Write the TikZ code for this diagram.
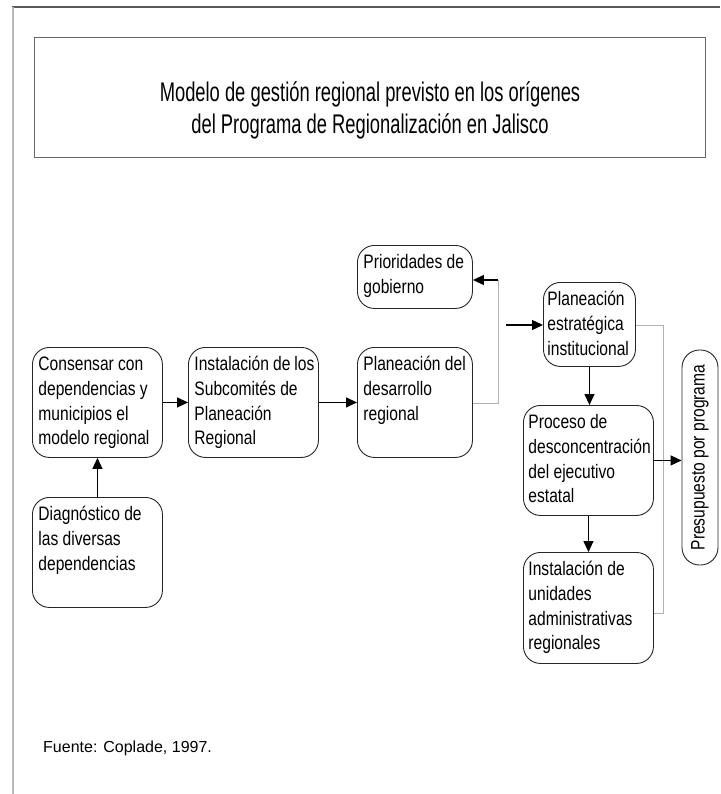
\documentclass[tikz,border=0pt]{standalone}
\usepackage{fontspec}
\setmainfont{Liberation Sans}
\newfontfamily\boxfont[FakeStretch=0.8]{Liberation Sans}
\newfontfamily\titlefont[FakeStretch=0.68]{Liberation Sans}
\usetikzlibrary{arrows.meta}
\newcommand{\bxt}[3]{\hspace*{2pt}\parbox[c][#2][t]{#1}{\raggedright\boxfont\fontsize{19.5}{24.8}\selectfont\rule{0pt}{23pt}#3}}
\tikzset{
  rbox/.style={draw=black!85, line width=0.9pt, rounded corners=17pt, inner sep=0pt, anchor=north west},
  arr/.style={line width=1.3pt, -{Triangle[length=11pt,width=10pt]}},
  hair/.style={line width=0.5pt, draw=gray!60},
}
\begin{document}
\begin{tikzpicture}[x=1pt,y=-1pt]
\useasboundingbox (0,0) rectangle (720,794);
% frame
\draw[gray!70!black, line width=1.2pt] (12,7) -- (720,7);
\draw[gray!55, line width=1.5pt] (13,7) -- (13,794);
% title
\node[draw=gray!80!black, line width=0.9pt, minimum width=671pt, minimum height=120pt, inner sep=0pt] (title) at (369.5,97) {};
\node[align=center, font=\titlefont\fontsize{27}{32}\selectfont] (ttext) at (370,110) {Modelo de gestión regional previsto en los orígenes\\del Programa de Regionalización en Jalisco};
% boxes
\node[rbox, minimum width=130pt, minimum height=110pt] (cons) at (32,347) {\bxt{120pt}{110pt}{Consensar con\\dependencias y\\municipios el\\modelo regional}};
\node[rbox, minimum width=130pt, minimum height=110pt] (inst) at (188,347) {\bxt{120pt}{110pt}{Instalación de los\\Subcomités de\\Planeación\\Regional}};
\node[rbox, minimum width=115pt, minimum height=110pt] (plan) at (357,347) {\bxt{105pt}{110pt}{Planeación del\\desarrollo\\regional}};
\node[rbox, minimum width=115pt, minimum height=63pt] (prio) at (357,245) {\bxt{105pt}{63pt}{Prioridades de\\gobierno}};
\node[rbox, minimum width=130pt, minimum height=110pt] (diag) at (32,497) {\bxt{120pt}{110pt}{Diagnóstico de\\las diversas\\dependencias}};
\node[rbox, minimum width=92pt, minimum height=84pt] (pei) at (543,282) {\bxt{86pt}{84pt}{Planeación\\estratégica\\institucional}};
\node[rbox, minimum width=130pt, minimum height=110pt] (proc) at (523,405) {\bxt{122pt}{110pt}{Proceso de\\desconcentración\\del ejecutivo\\estatal}};
\node[rbox, minimum width=130pt, minimum height=111pt] (unid) at (523,552) {\bxt{122pt}{111pt}{Instalación de\\unidades\\administrativas\\regionales}};
\node[draw=black!85, line width=0.9pt, rounded corners=17.5pt, inner sep=0pt, minimum width=36pt, minimum height=215pt] (pres) at (700,457.5) {\rotatebox{90}{\boxfont\fontsize{19.5}{25}\selectfont Presupuesto por programa}};
% connectors
\draw[arr] (cons) -- (inst);
\draw[arr] (inst) -- (plan);
\draw[arr] (diag) -- (cons);
\coordinate (j1) at (498,403);
\coordinate (j2) at (498,280);
\draw[hair] (plan.east |- j1) -- (j1) -- (j2);
\draw[arr] (j2) -- (prio.east |- j2);
\coordinate (s1) at (506,325);
\draw[arr] (s1) -- (pei.west |- s1);
\draw[arr] (pei.south) -- (pei.south |- proc.north);
\draw[arr] (proc.south) -- (proc.south |- unid.north);
\coordinate (v1) at (663,325);
\coordinate (v2) at (663,613);
\draw[hair] (pei.east |- v1) -- (v1) -- (v2) -- (unid.east |- v2);
\draw[arr] (proc.east) -- (pres.west |- proc.east);
% source
\node[anchor=west, inner sep=0pt, font=\fontsize{16}{18}\selectfont] (src) at (43,748) {Fuente: Coplade, 1997.};
\end{tikzpicture}
\end{document}
